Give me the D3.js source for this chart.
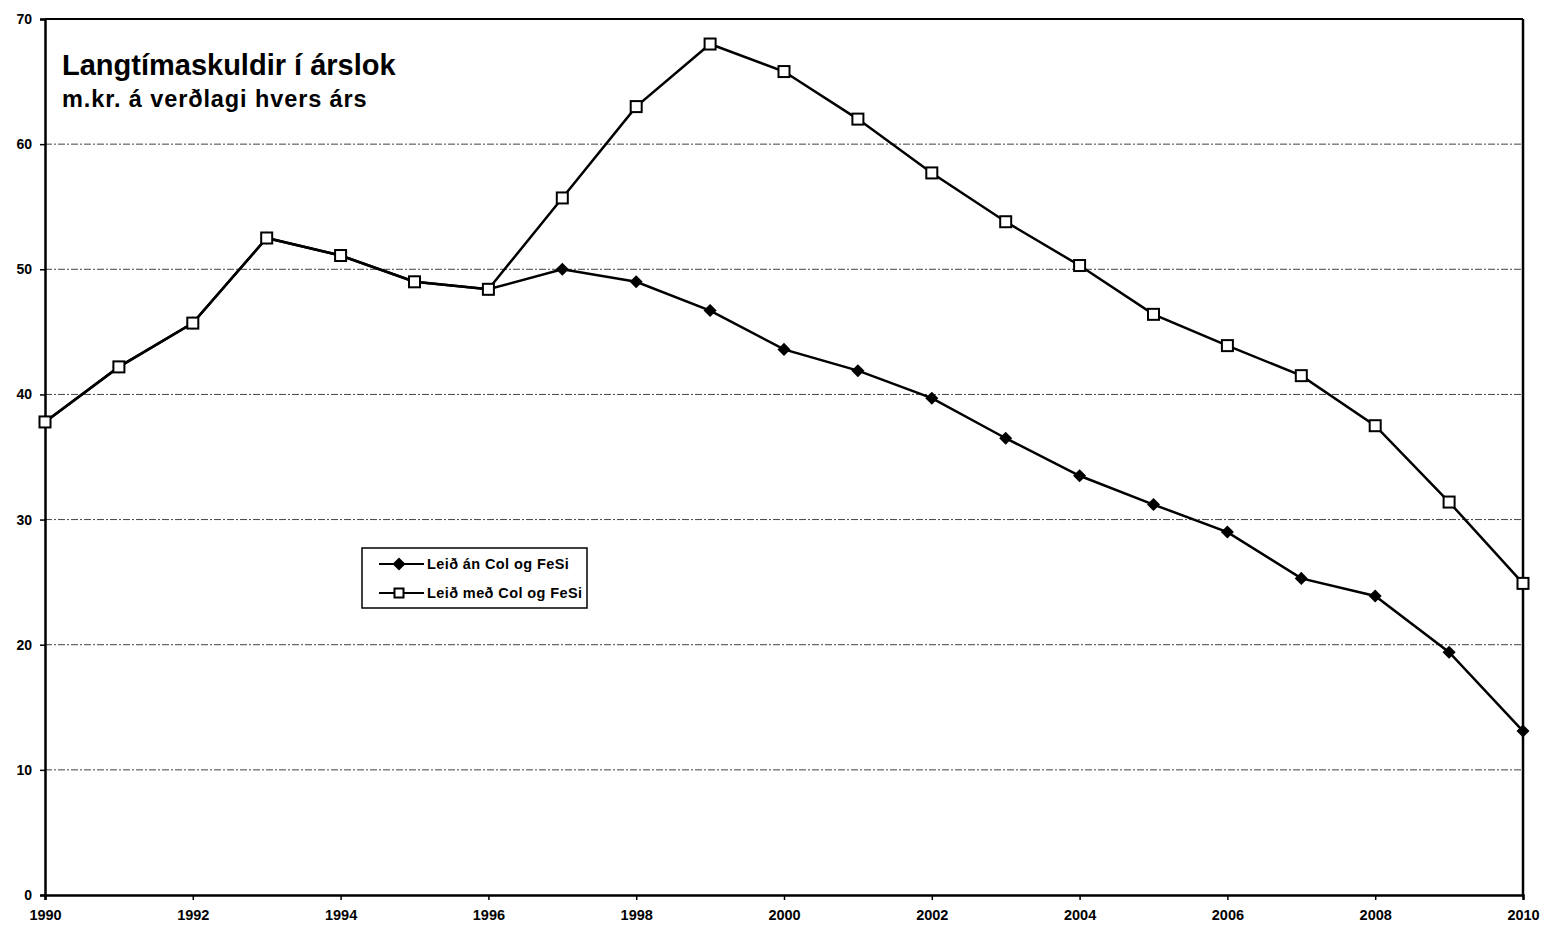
<!DOCTYPE html>
<html>
<head>
<meta charset="utf-8">
<script src="https://cdn.jsdelivr.net/npm/d3@7"></script>
<style>
  body { margin: 0; background: #fff; }
  svg text { font-family: "Liberation Sans", Arial, sans-serif; font-weight: bold; fill: #000; }
</style>
</head>
<body>
<div id="chart"></div>
<script>
const years = d3.range(1990, 2011);
const anCol = [37.8, 42.2, 45.7, 52.5, 51.1, 49.0, 48.4, 50.0, 49.0, 46.7, 43.6, 41.9, 39.7, 36.5, 33.5, 31.2, 29.0, 25.3, 23.9, 19.4, 13.1];
const medCol = [37.8, 42.2, 45.7, 52.5, 51.1, 49.0, 48.4, 55.7, 63.0, 68.0, 65.8, 62.0, 57.7, 53.8, 50.3, 46.4, 43.9, 41.5, 37.5, 31.4, 24.9];
const xTicks = d3.range(1990, 2011, 2);
const yTicks = [0, 10, 20, 30, 40, 50, 60, 70];
const seriesNames = ["Leið án Col og FeSi", "Leið með Col og FeSi"];
const titleText = "Langtímaskuldir í árslok";
const subtitleText = "m.kr. á verðlagi hvers árs";

const W = 1546, H = 931;
const m = { left: 45, right: 23, top: 19, bottom: 36 };

const svg = d3.select("#chart").append("svg").attr("width", W).attr("height", H);

const x = d3.scaleLinear().domain([1990, 2010]).range([m.left, W - m.right]);
const y = d3.scaleLinear().domain([0, 70]).range([H - m.bottom, m.top]);

// gridlines
svg.append("g").selectAll("line")
  .data(yTicks.filter(d => d > 0 && d < 70))
  .enter().append("line")
  .attr("x1", x(1990)).attr("x2", x(2010))
  .attr("y1", d => y(d)).attr("y2", d => y(d))
  .attr("stroke", "#444").attr("stroke-width", 1)
  .attr("stroke-dasharray", "7,2,2,2");

// frame: top and right
svg.append("line").attr("x1", x(1990)).attr("x2", x(2010)).attr("y1", y(70)).attr("y2", y(70))
  .attr("stroke", "#000").attr("stroke-width", 2);
svg.append("line").attr("x1", x(2010)).attr("x2", x(2010)).attr("y1", y(70)).attr("y2", y(0))
  .attr("stroke", "#000").attr("stroke-width", 2.5);

// axes
const xAxis = d3.axisBottom(x).tickValues(xTicks).tickFormat(d3.format("d")).tickSize(5).tickPadding(10);
const gx = svg.append("g").attr("transform", `translate(0,${y(0)})`).call(xAxis);
gx.select(".domain").attr("stroke-width", 2.5);
gx.selectAll("text").attr("font-size", 14.5);

const yAxis = d3.axisLeft(y).tickValues(yTicks).tickSize(5).tickPadding(8);
const gy = svg.append("g").attr("transform", `translate(${x(1990)},0)`).call(yAxis);
gy.select(".domain").attr("stroke-width", 2.5);
gy.selectAll("text").attr("font-size", 14);
svg.selectAll(".tick line").attr("stroke-width", 1.5);

// lines
const line = d3.line().x((d, i) => x(years[i])).y(d => y(d));
svg.append("path").datum(anCol).attr("d", line)
  .attr("fill", "none").attr("stroke", "#000").attr("stroke-width", 2.5);
svg.append("path").datum(medCol).attr("d", line)
  .attr("fill", "none").attr("stroke", "#000").attr("stroke-width", 2.5);

const diamond = d3.symbol().type(d3.symbolSquare).size(85);
svg.append("g").selectAll("path").data(anCol).enter().append("path")
  .attr("d", diamond)
  .attr("transform", (d, i) => `translate(${x(years[i])},${y(d)}) rotate(45)`)
  .attr("fill", "#000");

svg.append("g").selectAll("rect").data(medCol).enter().append("rect")
  .attr("x", (d, i) => x(years[i]) - 5.5).attr("y", d => y(d) - 5.5)
  .attr("width", 11).attr("height", 11)
  .attr("fill", "#fff").attr("stroke", "#000").attr("stroke-width", 2);

// title
svg.append("text").attr("x", 62).attr("y", 75).attr("font-size", 29).text(titleText);
svg.append("text").attr("x", 62).attr("y", 107).attr("font-size", 23.5)
  .attr("letter-spacing", 0.9).text(subtitleText);

// legend
const lg = svg.append("g").attr("transform", "translate(362,548)");
lg.append("rect").attr("width", 225).attr("height", 60)
  .attr("fill", "#fff").attr("stroke", "#000").attr("stroke-width", 1.5);
seriesNames.forEach((name, i) => {
  const cy = 16 + i * 29;
  lg.append("line").attr("x1", 17).attr("x2", 62).attr("y1", cy).attr("y2", cy)
    .attr("stroke", "#000").attr("stroke-width", 2);
  if (i === 0) {
    lg.append("path").attr("d", diamond).attr("transform", `translate(37,${cy}) rotate(45)`).attr("fill", "#000");
  } else {
    lg.append("rect").attr("x", 32.5).attr("y", cy - 4.5).attr("width", 9).attr("height", 9)
      .attr("fill", "#fff").attr("stroke", "#000").attr("stroke-width", 2);
  }
  lg.append("text").attr("x", 65).attr("y", cy + 5).attr("font-size", 14.5)
    .attr("letter-spacing", 0.4).text(name);
});
</script>
</body>
</html>
